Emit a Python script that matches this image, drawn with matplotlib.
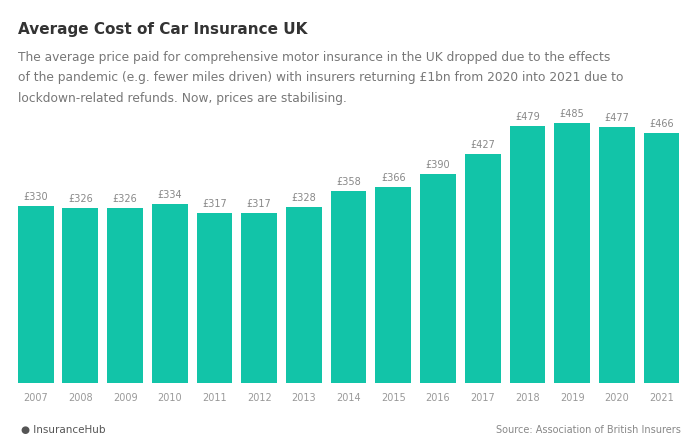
import matplotlib
matplotlib.use("Agg")
import matplotlib.pyplot as plt

years = ["2007", "2008", "2009", "2010", "2011", "2012", "2013", "2014",
         "2015", "2016", "2017", "2018", "2019", "2020", "2021"]
costs = [330, 326, 326, 334, 317, 317, 328, 358, 366, 390, 427, 479, 485, 477, 466]
value_labels = [f"£{v}" for v in costs]

title = "Average Cost of Car Insurance UK"
subtitle = ("The average price paid for comprehensive motor insurance in the UK dropped due to the effects\n"
            "of the pandemic (e.g. fewer miles driven) with insurers returning £1bn from 2020 into 2021 due to\n"
            "lockdown-related refunds. Now, prices are stabilising.")
brand = "InsuranceHub"
source = "Source: Association of British Insurers"

fig = plt.figure(figsize=(7, 4.47), dpi=100)
ax = fig.add_axes([0.019, 0.143, 0.958, 0.633])
bar_color = "#12c4a8"
x = range(len(years))
ax.bar(x, costs, width=0.8, color=bar_color)
ax.set_xlim(-0.5, len(years) - 0.5)
ax.set_ylim(0, 528)
for i, (v, lab) in enumerate(zip(costs, value_labels)):
    ax.text(i, v + 8, lab, ha="center", va="bottom", fontsize=7, color="#888888")
ax.set_xticks(list(x))
ax.set_xticklabels(years, fontsize=7, color="#999999")
ax.tick_params(axis="x", length=0, pad=7)
ax.set_yticks([])
for s in ax.spines.values():
    s.set_visible(False)

fig.text(0.026, 0.935, title, fontsize=11, fontweight="bold", color="#333333", va="center")
fig.text(0.026, 0.886, subtitle, fontsize=8.8, color="#777777", va="top", linespacing=1.75)
fig.text(0.03, 0.038, "\u25CF " + brand, fontsize=7.5, color="#555555", va="center")
fig.text(0.972, 0.038, source, fontsize=7, color="#888888", va="center", ha="right")

fig.savefig("out.png", dpi=100)
